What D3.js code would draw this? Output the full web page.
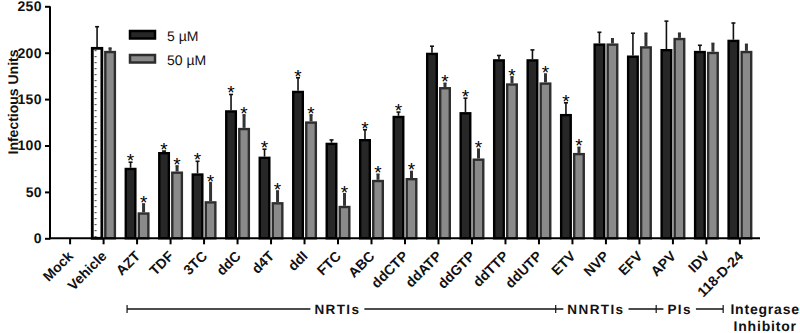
<!DOCTYPE html>
<html>
<head>
<meta charset="utf-8">
<script src="https://cdn.jsdelivr.net/npm/d3@7"></script>
<style>
  body { margin: 0; background: #fff; }
  svg { display: block; font-family: Arial, "Liberation Sans", sans-serif; }
  text { text-rendering: geometricPrecision; }
</style>
</head>
<body>
<div id="chart"></div>
<script>
// values
const categories = ["Mock", "Vehicle", "AZT", "TDF", "3TC", "ddC", "d4T", "ddI", "FTC", "ABC",
    "ddCTP", "ddATP", "ddGTP", "ddTTP", "ddUTP", "ETV", "NVP", "EFV", "APV", "IDV", "118-D-24"];
const series = ["5 \u00b5M", "50 \u00b5M"];

const mean5  = [0, 206, 76, 93, 70, 138, 88, 159, 103, 107, 132, 200, 136, 193, 193, 134, 210, 197, 204, 202, 214];
const err5   = [0, 22, 6, 1, 13, 17, 8, 14, 3, 10, 4, 7, 15, 4, 10, 12, 12, 24, 30, 6, 18];
const mean50 = [0, 202, 28, 72, 40, 119, 39, 126, 35, 63, 65, 163, 86, 167, 168, 92, 210, 207, 216, 201, 202];
const err50  = [0, 3, 9, 6, 20, 14, 12, 7, 13, 6, 7, 4, 10, 7, 9, 6, 5, 14, 5, 9, 7];
const star5  = [0, 0, 1, 1, 1, 1, 1, 1, 0, 1, 1, 0, 1, 0, 0, 1, 0, 0, 0, 0, 0];
const star50 = [0, 0, 1, 1, 1, 1, 1, 1, 1, 1, 1, 1, 1, 1, 1, 1, 0, 0, 0, 0, 0];

const yTicks = [0, 50, 100, 150, 200, 250];

// drug classes under the axis: [label, first category, last category]
const groups = [
    ["NRTIs", "AZT", "ddUTP"],
    ["NNRTIs", "ETV", "EFV"],
    ["PIs", "APV", "IDV"],
    ["Integrase\nInhibitor", "118-D-24", "118-D-24"]
];

const width = 800, height = 333;
const svg = d3.select("#chart").append("svg")
    .attr("width", width)
    .attr("height", height);

const x = d3.scaleBand()
    .domain(categories)
    .range([50, 760])
    .paddingInner(0)
    .paddingOuter(0.1);

const x1 = d3.scaleBand()
    .domain(series)
    .range([-12.5, 12.5])
    .paddingInner(0.08);

const y = d3.scaleLinear()
    .domain([0, 250])
    .range([238.3, 6.3]);

const cx = c => x(c) + x.bandwidth() / 2;

// dotted fill for the vehicle bar
const defs = svg.append("defs");
const pat = defs.append("pattern")
    .attr("id", "dots")
    .attr("patternUnits", "userSpaceOnUse")
    .attr("x", cx("Vehicle") + x1(series[0]))
    .attr("y", 0)
    .attr("width", 20)
    .attr("height", 6);
pat.append("rect").attr("width", 20).attr("height", 6).attr("fill", "#fff");
pat.append("rect").attr("x", 3.5).attr("y", 2).attr("width", 2).attr("height", 1.2).attr("fill", "#555");

const rows = categories.map((c, i) => [
    { cat: c, s: series[0], v: mean5[i], e: err5[i], star: star5[i] },
    { cat: c, s: series[1], v: mean50[i], e: err50[i], star: star50[i] }
]).flat().filter(d => d.v > 0);

const style = {
    [series[0]]: { fill: "#272727", stroke: "#000", errW: 1.6, errC: "#111", cap: 4 },
    [series[1]]: { fill: "#8a8a8a", stroke: "#2e2e2e", errW: 3, errC: "#333", cap: 3 }
};

// error bars (upper only)
const eg = svg.append("g");
rows.forEach(d => {
    const st = style[d.s];
    const xc = cx(d.cat) + x1(d.s) + x1.bandwidth() / 2;
    eg.append("line")
        .attr("x1", xc).attr("x2", xc)
        .attr("y1", y(d.v)).attr("y2", y(d.v + d.e))
        .attr("stroke", st.errC).attr("stroke-width", st.errW);
    eg.append("line")
        .attr("x1", xc - st.cap / 2).attr("x2", xc + st.cap / 2)
        .attr("y1", y(d.v + d.e)).attr("y2", y(d.v + d.e))
        .attr("stroke", st.errC).attr("stroke-width", 1.6);
});

// bars
svg.append("g").selectAll("rect")
    .data(rows)
    .join("rect")
    .attr("x", d => cx(d.cat) + x1(d.s) + 1.2)
    .attr("y", d => y(d.v) + 1.2)
    .attr("width", x1.bandwidth() - 2.4)
    .attr("height", d => y(0) - y(d.v) - 1.2)
    .attr("fill", d => d.cat === "Vehicle" && d.s === series[0] ? "url(#dots)" : style[d.s].fill)
    .attr("stroke", d => style[d.s].stroke)
    .attr("stroke-width", d => d.cat === "Vehicle" && d.s === series[0] ? 2.8 : 2.4);

// significance stars
svg.append("g").selectAll("text")
    .data(rows.filter(d => d.star))
    .join("text")
    .attr("x", d => cx(d.cat) + x1(d.s) + x1.bandwidth() / 2)
    .attr("y", d => y(d.v + d.e) + 5)
    .attr("text-anchor", "middle")
    .attr("font-size", 19)
    .attr("fill", "#000")
    .text("*");

// y axis
const yAxis = svg.append("g")
    .attr("transform", "translate(50,0)")
    .call(d3.axisLeft(y).tickValues(yTicks).tickSize(5).tickPadding(3));
yAxis.select(".domain").attr("stroke-width", 2).attr("d", `M0,${y(250)}V${y(0) + 1}`);
yAxis.selectAll(".tick line").attr("stroke-width", 2);
yAxis.selectAll("text")
    .attr("font-size", 14)
    .attr("font-weight", "bold")
    .attr("fill", "#111")
    .attr("letter-spacing", 0.4);

svg.append("text")
    .attr("transform", "translate(18,102) rotate(-90)")
    .attr("text-anchor", "middle")
    .attr("font-size", 14)
    .attr("font-weight", "bold")
    .attr("fill", "#111")
    .text("Infectious Units");

// x axis
const xAxis = svg.append("g")
    .attr("transform", `translate(0,${y(0)})`)
    .call(d3.axisBottom(x).tickSize(6).tickFormat(""));
xAxis.select(".domain").attr("stroke-width", 2).attr("d", "M49,0H760");
xAxis.selectAll(".tick line").attr("stroke-width", 2);

svg.append("g").selectAll("text")
    .data(categories)
    .join("text")
    .attr("transform", c => `translate(${cx(c) + 4},257) rotate(-45)`)
    .attr("text-anchor", "end")
    .attr("font-size", 14)
    .attr("font-weight", "bold")
    .attr("fill", "#111")
    .text(c => c);

// legend
const lg = svg.append("g");
series.forEach((s, i) => {
    lg.append("rect")
        .attr("x", 130).attr("y", 31 + i * 24)
        .attr("width", 25).attr("height", 7.5)
        .attr("fill", style[s].fill)
        .attr("stroke", style[s].stroke)
        .attr("stroke-width", 2.5);
    lg.append("text")
        .attr("x", 167).attr("y", 40.5 + i * 24)
        .attr("font-size", 14)
        .attr("fill", "#111")
        .text(s);
});

// class brackets
const by = 309;
const bg = svg.append("g").attr("fill", "#111").attr("stroke", "#111");
const bounds = groups.map((g, i) => [
    i === 0 ? cx(g[1]) - 10 : x(g[1]),
    x(g[2]) + x.step()
]);
groups.forEach((g, i) => {
    const [a, b] = bounds[i];
    const last = i === groups.length - 1;
    const mid = last ? a + 42 : (a + b) / 2 - (i === 0 ? 4 : 10);
    const t = bg.append("text")
        .attr("x", mid)
        .attr("y", by + 4.5)
        .attr("text-anchor", "middle")
        .attr("font-size", last ? 14 : 13.5)
        .attr("font-weight", "bold")
        .attr("letter-spacing", last ? 0.8 : 1.4)
        .attr("stroke", "none");
    g[0].split("\n").forEach((l, j) => t.append("tspan").attr("x", mid).attr("dy", j ? 17 : 0).text(l));
    const w = t.node().getBBox();
    if (!last) {
        bg.append("line").attr("x1", a).attr("x2", w.x - 4)
            .attr("y1", by).attr("y2", by).attr("stroke-width", 1.5);
        bg.append("line").attr("x1", w.x + w.width + 4).attr("x2", b)
            .attr("y1", by).attr("y2", by).attr("stroke-width", 1.5);
    }
    bg.append("line").attr("x1", a).attr("x2", a)
        .attr("y1", by - 4).attr("y2", by + 4).attr("stroke-width", 1.2);
});
</script>
</body>
</html>
